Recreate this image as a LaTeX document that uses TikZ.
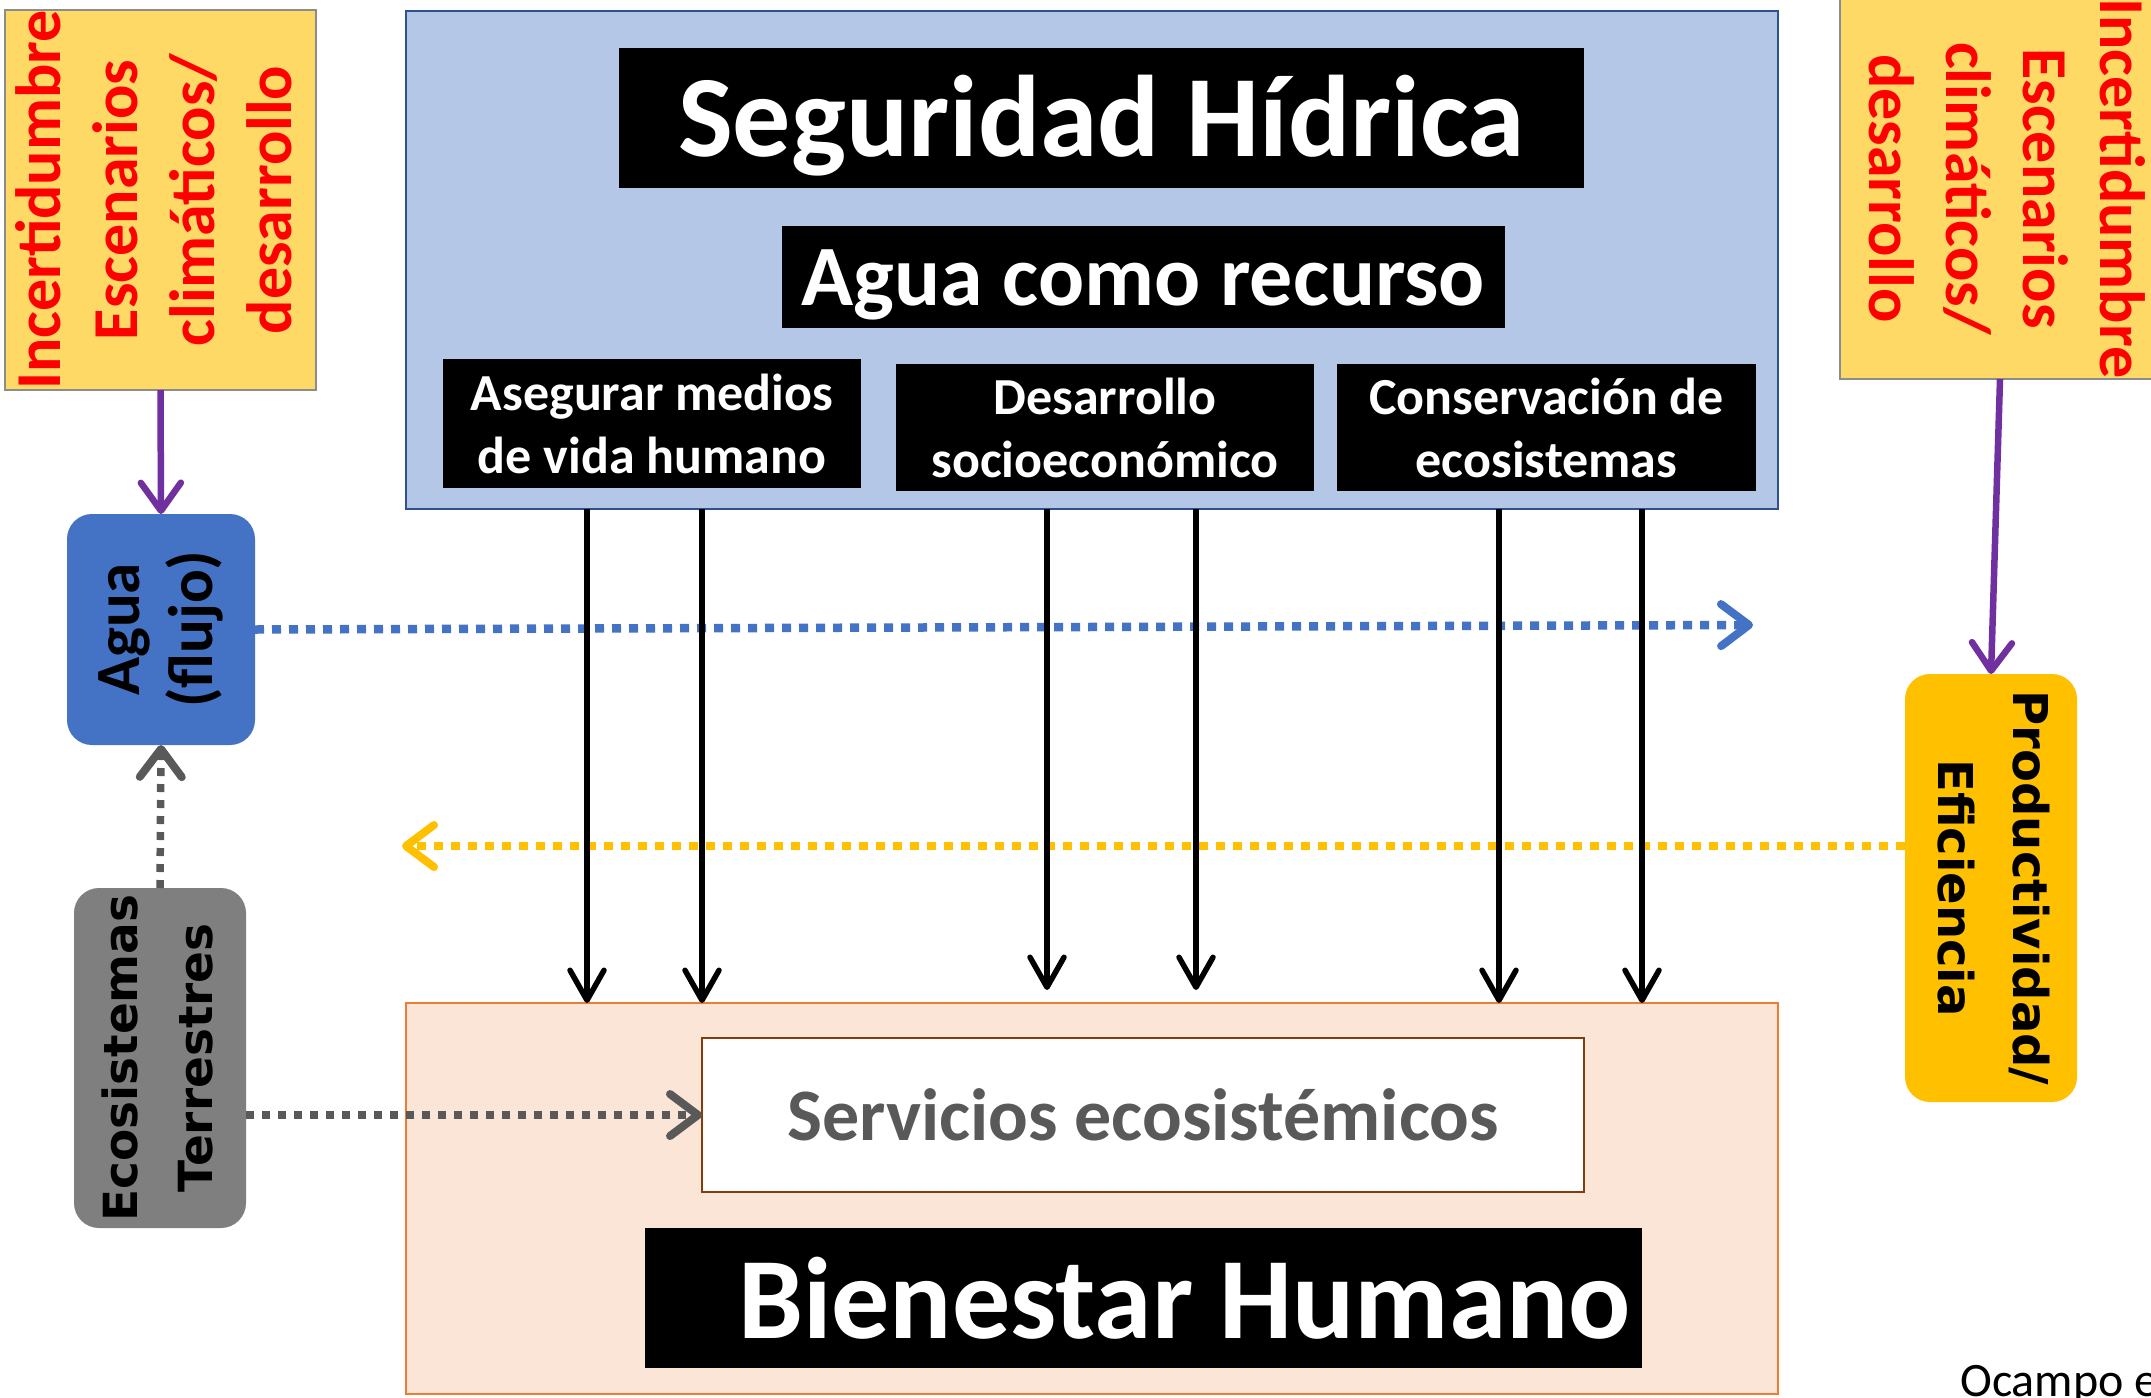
\documentclass[tikz,border=0pt]{standalone}
\usepackage{fontspec}
\setmainfont{Carlito}
\newfontfamily\dvs{DejaVu Sans}
\usetikzlibrary{arrows.meta,calc}
\definecolor{bluebg}{HTML}{B4C7E7}
\definecolor{bluebd}{HTML}{2F528F}
\definecolor{yelbg}{HTML}{FFD966}
\definecolor{yelbd}{HTML}{8C8C8C}
\definecolor{aguabl}{HTML}{4472C4}
\definecolor{ecogr}{HTML}{7F7F7F}
\definecolor{prodor}{HTML}{FFC000}
\definecolor{purp}{HTML}{7030A0}
\definecolor{dgray}{HTML}{595959}
\definecolor{wellbg}{HTML}{FBE5D6}
\definecolor{wellbd}{HTML}{ED7D31}
\definecolor{servbd}{HTML}{843C0C}
\begin{document}
\begin{tikzpicture}[x=1pt,y=-1pt,
  box/.style={anchor=north west, inner sep=0pt, outer sep=0pt},
  blackbox/.style={box, fill=black, text=white, align=center},
  smallfont/.style={font=\fontsize{52}{63}\selectfont\bfseries},
  yelbox/.style={box, fill=yelbg, draw=yelbd, line width=2pt, text=red,
     font=\fontsize{64}{77}\selectfont\bfseries},
  roundbox/.style={box, rounded corners=25pt},
  blk/.style={line width=5.5pt, -{Straight Barb[length=30pt,width=34pt,line width=5.5pt,round]}},
  purparrow/.style={purp, line width=6.5pt, -{Straight Barb[length=28pt,width=40pt,line width=6.5pt,round]}},
  dotarrow/.style={line width=8.5pt, dash pattern=on 9pt off 8pt, -{Straight Barb[length=28pt,width=42pt,line width=8pt,round]}},
]
\path[use as bounding box] (0,0) rectangle (2151,1397);
\clip (0,0) rectangle (2151,1397);
\fill[white] (0,0) rectangle (2151,1397);

% containers
\node[box, fill=bluebg, draw=bluebd, line width=2pt, minimum width=1372pt, minimum height=498pt] (big) at (406,11) {};
\node[box, fill=wellbg, draw=wellbd, line width=2.5pt, minimum width=1372pt, minimum height=391pt] (well) at (406,1003) {};

% top black boxes
\node[blackbox, minimum width=965pt, minimum height=140pt, font=\fontsize{116}{130}\selectfont\bfseries] (seg) at (619,48) {\raisebox{-8pt}[\height][\depth]{Seguridad Hídrica}};
\node[blackbox, minimum width=723pt, minimum height=102pt, font=\fontsize{86}{100}\selectfont\bfseries] (rec) at (782,226) {\raisebox{-8pt}[\height][\depth]{Agua como recurso}};
\node[blackbox, smallfont, minimum width=418pt, minimum height=129pt] (ase) at (443,359) {Asegurar medios\\de vida humano};
\node[blackbox, smallfont, minimum width=418pt, minimum height=127pt] (des) at (896,364) {Desarrollo\\socioeconómico};
\node[blackbox, smallfont, minimum width=419pt, minimum height=127pt] (con) at (1337,364) {Conservación de\\ecosistemas};

% bottom boxes
\node[box, fill=white, draw=servbd, line width=2.5pt, minimum width=882pt, minimum height=154pt, text=dgray, font=\fontsize{74}{88}\selectfont\bfseries] (serv) at (702,1038) {Servicios ecosistémicos};
\node[box, fill=black, text=white, minimum width=997pt, minimum height=140pt, font=\fontsize{116}{130}\selectfont\bfseries] (bien) at (645,1228) {\hspace*{82pt}Bienestar Humano};

% side boxes
\node[yelbox, minimum width=311pt, minimum height=380pt] (yl) at (5,10) {\rotatebox{90}{\begin{tabular}{@{}c@{}}Incertidumbre\\Escenarios\\climáticos/\\desarrollo\end{tabular}}};
\node[yelbox, minimum width=320pt, minimum height=381pt] (yr) at (1840,-2) {\rotatebox{-90}{\begin{tabular}{@{}c@{}}Incertidumbre\\Escenarios\\climáticos/\\desarrollo\end{tabular}}};
\node[roundbox, fill=aguabl, minimum width=188pt, minimum height=231pt, font=\fontsize{63}{73}\selectfont\bfseries] (agua) at (67,514) {\rotatebox{90}{\begin{tabular}{@{}c@{}}Agua\\(flujo)\end{tabular}}};
\node[roundbox, fill=ecogr, minimum width=172pt, minimum height=340pt, font=\fontsize{47}{75}\selectfont\dvs\bfseries] (eco) at (74,888) {\rotatebox{90}{\begin{tabular}{@{}c@{}}Ecosistemas\\Terrestres\end{tabular}}};
\node[roundbox, fill=prodor, minimum width=172pt, minimum height=428pt, font=\fontsize{48}{75}\selectfont\dvs\bfseries] (prod) at (1905,674) {\rotatebox{-90}{\begin{tabular}{@{}c@{}}Productividad/\\Eficiencia\end{tabular}}};

\node[anchor=base west, inner sep=0pt, font=\fontsize{48}{58}\selectfont] (cite) at (1960,1396) {Ocampo e};

% coordinates
\coordinate (bluend) at (1753,625);
\coordinate (yelend) at (402,846);
\coordinate (midend) at (0,990);
\coordinate (x1) at (587,0);
\coordinate (x2) at (702,0);
\coordinate (x3) at (1047,0);
\coordinate (x4) at (1196,0);
\coordinate (x5) at (1499,0);
\coordinate (x6) at (1642,0);

% dotted connectors
\draw[dotarrow, aguabl] (agua.east) -- (bluend);
\draw[dotarrow, prodor] (prod.west |- yelend) -- (yelend);
\draw[dotarrow, dgray, line width=7.5pt, dash pattern=on 8pt off 8pt] (eco.north) -- (agua.south);
\draw[dotarrow, dgray, line width=7.5pt, dash pattern=on 8pt off 8pt] (eco.east |- serv.west) -- (serv.west);

% purple arrows
\draw[purparrow] (yl.south) -- (agua.north);
\draw[purparrow] (yr.south) -- (prod.north);

% black arrows
\draw[blk] (big.south -| x1) -- (well.north -| x1);
\draw[blk] (big.south -| x2) -- (well.north -| x2);
\draw[blk] (big.south -| x3) -- (midend -| x3);
\draw[blk] (big.south -| x4) -- (midend -| x4);
\draw[blk] (big.south -| x5) -- (well.north -| x5);
\draw[blk] (big.south -| x6) -- (well.north -| x6);
\end{tikzpicture}
\end{document}
